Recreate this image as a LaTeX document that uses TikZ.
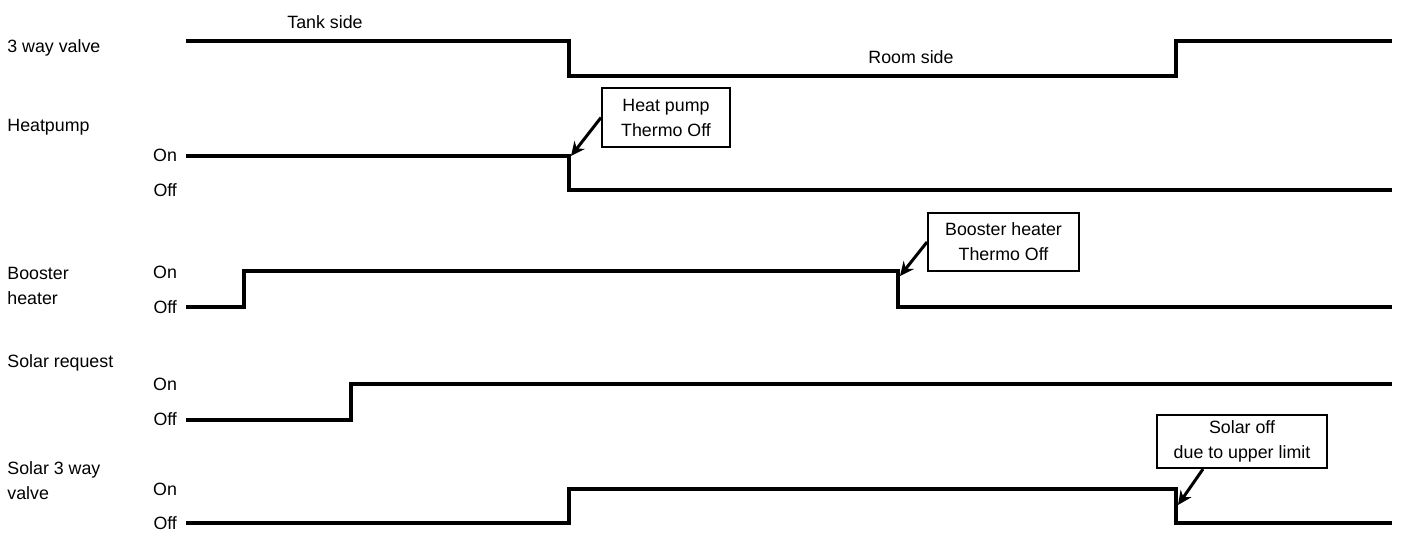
\documentclass[tikz,border=0pt]{standalone}
\usepackage{fontspec}
\setmainfont{Liberation Sans}
\usetikzlibrary{arrows.meta,calc}

\begin{document}
\begin{tikzpicture}[
        x=0.5pt, y=-0.5pt,
        >=Stealth, % sets arrowhead style
        sig/.style={line width=2.3pt, line join=miter},
        note/.style={draw, line width=1pt, align=center, inner sep=0pt},
        pointer/.style={line width=1.5pt, -{Stealth[length=7pt, width=6.5pt]}},
        lbl/.style={anchor=west, align=left, inner xsep=0pt},
        lvl/.style={anchor=east},
        font=\fontsize{8.9}{12.5}\selectfont,
    ]
        \useasboundingbox (0,0) rectangle (1414,532);

        % Signal names
        \node[lbl] (valve) at (7,48) {3 way valve};
        \node[lbl] (heatpump) at (7,127) {Heatpump};
        \node[lbl] (booster) at (7,286) {Booster\\heater};
        \node[lbl] (solarreq) at (7,363) {Solar request};
        \node[lbl] (solarvalve) at (7,481) {Solar 3 way\\valve};

        % On / Off levels
        \node[lvl] (hpon) at (184,155) {On};
        \node[lvl] (hpoff) at (184,190) {Off};
        \node[lvl] (bhon) at (184,272) {On};
        \node[lvl] (bhoff) at (184,307) {Off};
        \node[lvl] (sron) at (184,384) {On};
        \node[lvl] (sroff) at (184,419) {Off};
        \node[lvl] (svon) at (184,489) {On};
        \node[lvl] (svoff) at (184,523) {Off};

        % 3 way valve
        \draw[sig] (186,41) -- (569,41) -- (569,76) -- (1176,76) -- (1176,41) -- (1392,41);
        \node (tank) at (325,22) {Tank side};
        \node (room) at (911,57) {Room side};

        % Heatpump
        \draw[sig] (186,156) -- (569,156) -- (569,190) -- (1392,190);

        % Booster heater
        \draw[sig] (186,307) -- (244,307) -- (244,271) -- (898,271) -- (898,307) -- (1392,307);

        % Solar request
        \draw[sig] (186,420) -- (351,420) -- (351,384) -- (1392,384);

        % Solar 3 way valve
        \draw[sig] (186,523) -- (569,523) -- (569,489) -- (1176,489) -- (1176,523) -- (1392,523);

        % Callouts
        \coordinate (hptip) at (571,156);
        \coordinate (bhtip) at (900,276);
        \coordinate (svtip) at (1178,505);

        \node[note, minimum width=64pt, minimum height=29.5pt] (hpnote) at (666,117.5)
            {Heat pump\\Thermo Off};
        \node[note, minimum width=75.5pt, minimum height=29pt] (bhnote) at (1003.5,242)
            {Booster heater\\Thermo Off};
        \node[note, minimum width=85pt, minimum height=26.5pt] (svnote) at (1242,441.5)
            {Solar off\\due to upper limit};

        \draw[pointer] (hpnote.west) -- (hptip);
        \draw[pointer] (bhnote.west) -- (bhtip);
        \draw[pointer] ([xshift=-19.5pt]svnote.south) -- (svtip);

    \end{tikzpicture}
\end{document}
